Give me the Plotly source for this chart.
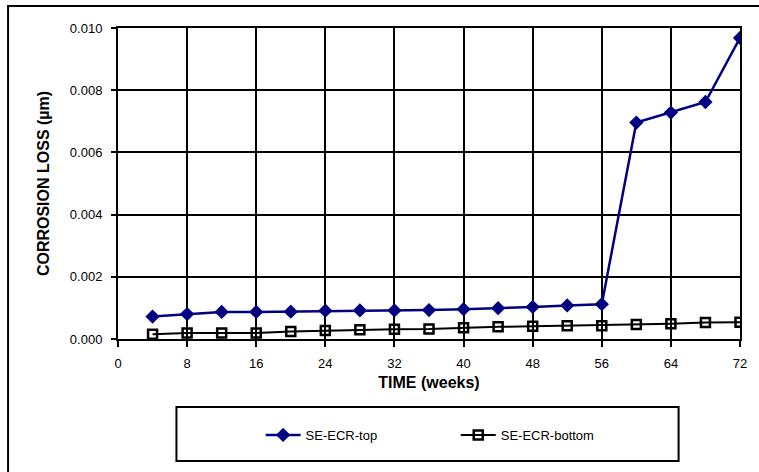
import plotly.graph_objects as go

weeks = [4, 8, 12, 16, 20, 24, 28, 32, 36, 40, 44, 48, 52, 56, 60, 64, 68, 72]
top_loss = [0.00072, 0.00080, 0.00087, 0.00087, 0.00088, 0.00091, 0.00092, 0.00092, 0.00093,
            0.00096, 0.00099, 0.00103, 0.00108, 0.00112, 0.00696, 0.00728, 0.00762, 0.00968]
bottom_loss = [0.00015, 0.00019, 0.00019, 0.00019, 0.00024, 0.00027, 0.00030, 0.00031, 0.00032,
               0.00036, 0.00039, 0.00041, 0.00043, 0.00043, 0.00047, 0.00049, 0.00053, 0.00054]
x_ticks = [0, 8, 16, 24, 32, 40, 48, 56, 64, 72]
y_ticks = [0.000, 0.002, 0.004, 0.006, 0.008, 0.010]

FONT = "Liberation Sans, Arial, sans-serif"

fig = go.Figure()
fig.add_trace(go.Scatter(
    x=weeks, y=top_loss, mode="lines+markers", name="SE-ECR-top",
    line=dict(color="#000080", width=2.5),
    marker=dict(symbol="diamond", size=11, color="#000080"),
    legend="legend",
))
fig.add_trace(go.Scatter(
    x=weeks, y=bottom_loss, mode="lines+markers", name="SE-ECR-bottom",
    line=dict(color="black", width=2),
    marker=dict(symbol="square-open", size=9, color="black", line=dict(width=2.5)),
    legend="legend2",
))

L, R, T, B = 118, 13, 28, 133
W, H = 759, 472
pw, ph = W - L - R, H - T - B

def px(x):
    return (x - L) / pw

def py(y):
    return (H - B - y) / ph

fig.update_layout(
    width=W, height=H,
    margin=dict(l=L, r=R, t=T, b=B),
    paper_bgcolor="white", plot_bgcolor="white",
    font=dict(family=FONT, size=13, color="black"),
    xaxis=dict(
        range=[0, 72], tickvals=x_ticks, ticktext=[str(v) for v in x_ticks],
        showgrid=True, gridcolor="black", gridwidth=2,
        showline=True, linecolor="black", linewidth=2, mirror=True,
        ticks="outside", ticklen=6, tickwidth=2, tickcolor="black",
        ticklabelstandoff=5,
        zeroline=False,
        title=dict(text="<b>TIME (weeks)</b>", font=dict(size=16), standoff=7),
        tickfont=dict(size=13),
    ),
    yaxis=dict(
        range=[0, 0.010], tickvals=y_ticks, ticktext=[f"{v:.3f}" for v in y_ticks],
        showgrid=True, gridcolor="black", gridwidth=2,
        showline=True, linecolor="black", linewidth=2, mirror=True,
        ticks="outside", ticklen=5, tickwidth=2, tickcolor="black",
        ticklabelstandoff=6,
        zeroline=False,
        title=dict(text="<b>CORROSION LOSS (µm)</b>", font=dict(size=16), standoff=16),
        tickfont=dict(size=13),
    ),
    legend=dict(
        x=px(262), y=py(435), xanchor="left", yanchor="middle",
        bgcolor="rgba(0,0,0,0)", font=dict(size=13), orientation="h", itemwidth=35,
    ),
    legend2=dict(
        x=px(459), y=py(435), xanchor="left", yanchor="middle",
        bgcolor="rgba(0,0,0,0)", font=dict(size=13), orientation="h", itemwidth=35,
    ),
    showlegend=True,
    shapes=[
        dict(type="rect", xref="paper", yref="paper",
             x0=px(7), x1=px(780), y0=py(490), y1=py(6),
             line=dict(color="black", width=2), fillcolor="rgba(0,0,0,0)", layer="below"),
        dict(type="rect", xref="paper", yref="paper",
             x0=px(177), x1=px(684), y0=py(461), y1=py(407),
             line=dict(color="black", width=2), fillcolor="rgba(0,0,0,0)", layer="below"),
    ],
)

fig.write_html("out.html", config={"displayModeBar": False},
               post_script="document.body.style.margin='0';")
